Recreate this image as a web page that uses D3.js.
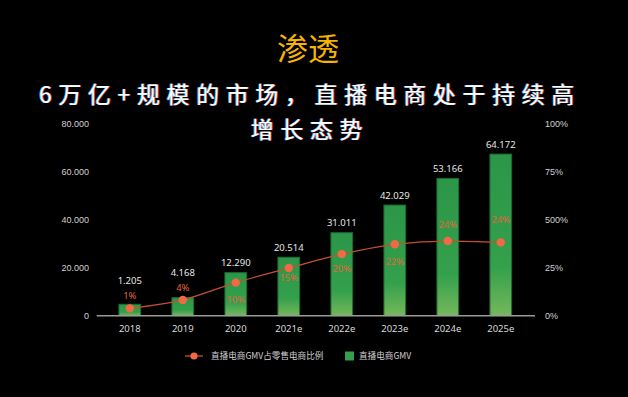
<!DOCTYPE html>
<html>
<head>
<meta charset="utf-8">
<script src="https://cdn.jsdelivr.net/npm/d3@7"></script>
<style>
  body { margin: 0; background: #000; }
  svg { display: block; }
</style>
</head>
<body>
<div id="chart"></div>
<script>
// chart data
const years = ["2018", "2019", "2020", "2021e", "2022e", "2023e", "2024e", "2025e"];
const gmvBars = [4740, 7480, 17900, 24300, 34500, 46000, 57100, 67200];   // drawn bar heights
const gmvLabels = ["1.205", "4.168", "12.290", "20.514", "31.011", "42.029", "53.166", "64.172"];
const sharePct = [3.8, 8.2, 17.2, 24.8, 32, 37.1, 38.8, 38.1];
const shareLabels = ["1%", "4%", "10%", "15%", "20%", "22%", "24%", "24%"];
const leftTicks = [0, 20000, 40000, 60000, 80000];
const leftTickLabels = ["0", "20.000", "40.000", "60.000", "80.000"];
const rightTicks = [0, 25, 50, 75, 100];
const rightTickLabels = ["0%", "25%", "500%", "75%", "100%"];

// layout: vertical nudge of the % labels
const shareLabelDy = [-13, -12, 17, 10, 14, 17, -17, -23];

const width = 628;
const height = 397;

const svg = d3.select("#chart")
  .append("svg")
  .attr("width", width)
  .attr("height", height)
  .style("background", "#000");

// titles
svg.append("text")
  .attr("x", 308)
  .attr("y", 60)
  .attr("text-anchor", "middle")
  .attr("font-family", "'Noto Sans CJK SC'")
  .attr("font-size", 31)
  .attr("font-weight", 400)
  .attr("fill", "#f7b500")
  .text("渗透");

const subLines = ["6万亿+规模的市场，直播电商处于持续高", "增长态势"];
subLines.forEach((t, i) => {
  svg.append("text")
    .attr("x", 310)
    .attr("y", 103 + i * 35)
    .attr("text-anchor", "middle")
    .attr("font-family", "'Noto Sans CJK SC'")
    .attr("font-size", 23)
    .attr("font-weight", 400)
    .attr("letter-spacing", 6.6)
    .attr("fill", "#fff")
    .style("text-shadow", "-0.7px 0 #35c8ff, 0.7px 0 #ff4040")
    .text(t);
});

// scales
const y0 = 315.7, y1 = 123.3;
const x = d3.scaleBand()
  .domain(years)
  .range([103.3, 527.3])
  .paddingInner(0.59)
  .paddingOuter(0.295);

const yLeft = d3.scaleLinear().domain([0, 80000]).range([y0, y1]);
const yRight = d3.scaleLinear().domain([0, 100]).range([y0, y1]);

const defs = svg.append("defs");
const grad = defs.append("linearGradient")
  .attr("id", "barGrad")
  .attr("x1", 0).attr("y1", 0).attr("x2", 0).attr("y2", 1);
grad.append("stop").attr("offset", "0%").attr("stop-color", "#2b9648");
grad.append("stop").attr("offset", "70%").attr("stop-color", "#34a04c");
grad.append("stop").attr("offset", "100%").attr("stop-color", "#74b85b");

// left axis labels
const leftAxis = svg.append("g")
  .attr("transform", "translate(96,0)")
  .call(d3.axisLeft(yLeft).tickValues(leftTicks).tickSize(0).tickPadding(7)
    .tickFormat((d, i) => leftTickLabels[i]));
leftAxis.select(".domain").remove();
leftAxis.selectAll("text")
  .attr("fill", "#d0d0d0")
  .attr("font-family", "'Liberation Sans Narrow', 'Liberation Sans', sans-serif")
  .attr("font-size", 9);

const rightAxis = svg.append("g")
  .attr("transform", "translate(537,0)")
  .call(d3.axisRight(yRight).tickValues(rightTicks).tickSize(0).tickPadding(8)
    .tickFormat((d, i) => rightTickLabels[i]));
rightAxis.select(".domain").remove();
rightAxis.selectAll("text")
  .attr("fill", "#d0d0d0")
  .attr("font-family", "'Liberation Sans Narrow', 'Liberation Sans', sans-serif")
  .attr("font-size", 9);

// bars
svg.selectAll("rect.bar")
  .data(gmvBars)
  .enter()
  .append("rect")
  .attr("class", "bar")
  .attr("x", (d, i) => x(years[i]))
  .attr("y", d => yLeft(d))
  .attr("width", x.bandwidth())
  .attr("height", d => y0 - yLeft(d))
  .attr("fill", "url(#barGrad)")
  .attr("stroke", "#1d6b30")
  .attr("stroke-width", 1);

// bottom axis
const bottomAxis = svg.append("g")
  .attr("transform", `translate(0,${y0})`)
  .call(d3.axisBottom(x).tickSize(0).tickPadding(10));
bottomAxis.select(".domain").remove();
bottomAxis.selectAll("text")
  .attr("fill", "#d8d8d8")
  .attr("font-family", "'Noto Sans', sans-serif")
  .attr("font-size", 9.5);

svg.append("line")
  .attr("x1", 96.7).attr("x2", 535)
  .attr("y1", y0).attr("y2", y0)
  .attr("stroke", "#9a9a9a")
  .attr("stroke-width", 1.6);

// share line
const cx = (d, i) => x(years[i]) + x.bandwidth() / 2;
const line = d3.line()
  .x(cx)
  .y(d => yRight(d))
  .curve(d3.curveMonotoneX);

svg.append("path")
  .datum(sharePct)
  .attr("d", line)
  .attr("fill", "none")
  .attr("stroke", "#c4512e")
  .attr("stroke-width", 1.3);

svg.selectAll("circle.dot")
  .data(sharePct)
  .enter()
  .append("circle")
  .attr("class", "dot")
  .attr("cx", cx)
  .attr("cy", d => yRight(d))
  .attr("r", 4.2)
  .attr("fill", "#f26a45");

svg.selectAll("text.pct")
  .data(sharePct)
  .enter()
  .append("text")
  .attr("class", "pct")
  .attr("x", cx)
  .attr("y", (d, i) => yRight(d) + shareLabelDy[i] + 3.5)
  .attr("text-anchor", "middle")
  .attr("font-family", "'Noto Sans', sans-serif")
  .attr("font-size", 9.5)
  .attr("fill", "#e0663d")
  .text((d, i) => shareLabels[i]);

// value labels above the bars (kept clear of the % label)
svg.selectAll("text.val")
  .data(gmvBars)
  .enter()
  .append("text")
  .attr("class", "val")
  .attr("x", (d, i) => x(years[i]) + x.bandwidth() / 2)
  .attr("y", (d, i) => {
    const pctY = yRight(sharePct[i]) + shareLabelDy[i];
    return Math.min(yLeft(d), pctY - 5) - 10 + 3.5;
  })
  .attr("text-anchor", "middle")
  .attr("font-family", "'Noto Sans', sans-serif")
  .attr("font-size", 9.5)
  .attr("fill", "#e6e6e6")
  .text((d, i) => gmvLabels[i]);

// legend
const legend = svg.append("g").attr("transform", "translate(0,356)");
legend.append("line")
  .attr("x1", 185).attr("x2", 203).attr("y1", 0).attr("y2", 0)
  .attr("stroke", "#c4512e").attr("stroke-width", 1.3);
legend.append("circle")
  .attr("cx", 194).attr("cy", 0).attr("r", 3.6).attr("fill", "#f26a45");
legend.append("text")
  .attr("x", 211).attr("y", 3.2)
  .attr("font-family", "'Noto Sans CJK SC'")
  .attr("font-size", 8.6)
  .attr("fill", "#cfcfcf")
  .text("直播电商GMV占零售电商比例");
legend.append("rect")
  .attr("x", 345).attr("y", -4.5).attr("width", 9).attr("height", 9)
  .attr("fill", "#34a04c");
legend.append("text")
  .attr("x", 359).attr("y", 3.2)
  .attr("font-family", "'Noto Sans CJK SC'")
  .attr("font-size", 8.6)
  .attr("fill", "#cfcfcf")
  .text("直播电商GMV");
</script>
</body>
</html>
